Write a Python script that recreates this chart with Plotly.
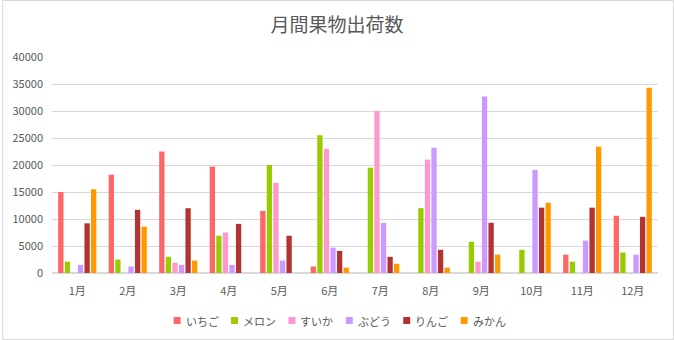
import plotly.graph_objects as go

months = ["1月", "2月", "3月", "4月", "5月", "6月", "7月", "8月", "9月", "10月", "11月", "12月"]

ichigo = [15000, 18200, 22500, 19700, 11500, 1200, 0, 0, 0, 0, 3400, 10600]
melon = [2100, 2500, 3000, 6900, 20000, 25500, 19500, 12000, 5800, 4300, 2100, 3800]
suika = [0, 0, 1900, 7500, 16700, 23000, 30000, 21000, 2100, 0, 0, 0]
budou = [1500, 1200, 1500, 1500, 2300, 4700, 9300, 23200, 32700, 19100, 6000, 3400]
ringo = [9200, 11700, 12000, 9100, 6900, 4100, 3000, 4300, 9300, 12100, 12100, 10400]
mikan = [15500, 8600, 2300, 0, 0, 1000, 1700, 1000, 3400, 13000, 23400, 34300]

series = [
    ("いちご", ichigo, "#FF6666"),
    ("メロン", melon, "#99CC00"),
    ("すいか", suika, "#FF99CC"),
    ("ぶどう", budou, "#CC99FF"),
    ("りんご", ringo, "#B33333"),
    ("みかん", mikan, "#FF9900"),
]

font_family = "Noto Sans CJK JP"
text_color = "#595959"
grid_color = "#D9D9D9"

fig = go.Figure()
for name, vals, color in series:
    fig.add_trace(go.Bar(
        name=name, x=months, y=vals, showlegend=False,
        marker=dict(color=color, line=dict(width=0)),
    ))

W, H = 674, 340
ml, mr, mt, mb = 50, 16, 57, 67
pw, ph = W - ml - mr, H - mt - mb


def px_x(px):
    return (px - ml) / pw


def px_y(py):
    return (mt + ph - py) / ph


# Chart-area border
shapes = [dict(type="rect", xref="paper", yref="paper",
               x0=px_x(0.5), x1=px_x(W - 0.5),
               y0=px_y(H - 0.5), y1=px_y(0.5),
               line=dict(color=grid_color, width=1), layer="below")]
annotations = []

# Compact legend row beneath the axis: small colour key + label
leg_x0, leg_step, leg_y, key = 172, 57.6, 320.5, 7
for i, (name, _, color) in enumerate(series):
    lx = leg_x0 + i * leg_step
    shapes.append(dict(type="rect", xref="paper", yref="paper",
                       x0=px_x(lx), x1=px_x(lx + key),
                       y0=px_y(leg_y + key / 2), y1=px_y(leg_y - key / 2),
                       fillcolor=color, line=dict(width=0)))
    annotations.append(dict(text=name, xref="paper", yref="paper",
                            x=px_x(lx + key + 3), y=px_y(leg_y),
                            xanchor="left", yanchor="middle", showarrow=False,
                            font=dict(size=11, color=text_color, family=font_family)))

fig.update_layout(
    width=W, height=H,
    margin=dict(l=ml, r=mr, t=mt, b=mb),
    paper_bgcolor="white", plot_bgcolor="white",
    barmode="group", bargap=0.22, bargroupgap=0.19,
    font=dict(family=font_family, color=text_color, size=11),
    title=dict(text="月間果物出荷数", x=0.5, xanchor="center",
               y=1 - 25 / H, yanchor="middle",
               font=dict(size=19, color=text_color, family=font_family)),
    xaxis=dict(showgrid=False, showline=True, linecolor=grid_color, linewidth=1,
               ticks="", ticklabelstandoff=8, tickfont=dict(size=11, color=text_color)),
    yaxis=dict(range=[0, 40000], dtick=5000, tickformat="d",
               showgrid=True, gridcolor=grid_color, gridwidth=1,
               zeroline=True, zerolinecolor=grid_color,
               showline=False, ticks="", ticklabelstandoff=8,
               tickfont=dict(size=11, color=text_color)),
    showlegend=False,
    shapes=shapes,
    annotations=annotations,
)

fig.write_html("out.html")
